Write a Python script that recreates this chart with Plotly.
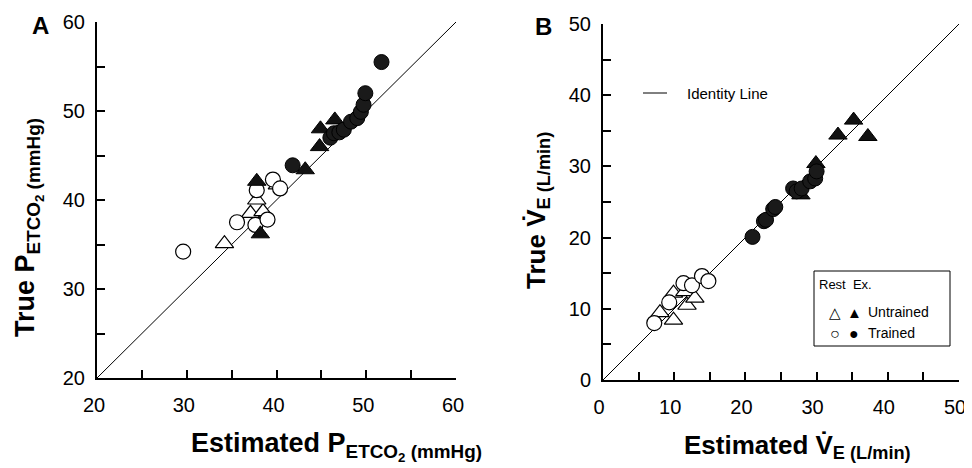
import plotly.graph_objects as go

# ---------------- data ----------------
# Panel A: PETCO2 (mmHg)
a_rest_untrained_x = [34.2, 37.1, 38.5, 37.8, 40.1]
a_rest_untrained_y = [35.1, 38.5, 38.7, 40.0, 41.7]
a_rest_trained_x = [29.6, 35.6, 37.65, 39.0, 37.8, 39.6, 40.4]
a_rest_trained_y = [34.2, 37.5, 37.2, 37.8, 41.1, 42.3, 41.3]
a_ex_untrained_x = [38.2, 37.8, 43.2, 44.8, 44.9, 46.5]
a_ex_untrained_y = [36.2, 42.1, 43.4, 46.0, 48.0, 49.0]
a_ex_trained_x = [41.8, 46.0, 46.4, 47.0, 47.5, 48.3, 49.0, 49.4, 49.7, 49.9, 51.7]
a_ex_trained_y = [43.9, 47.0, 47.5, 47.6, 47.9, 48.8, 49.2, 49.9, 50.7, 52.0, 55.5]
a_identity = [20, 60]

# Panel B: VE (L/min)
b_rest_untrained_x = [8.0, 9.9, 9.9, 11.5, 11.8, 12.9]
b_rest_untrained_y = [9.45, 8.4, 12.2, 12.4, 10.5, 11.5]
b_rest_trained_x = [7.2, 9.3, 11.3, 12.5, 13.9, 14.8]
b_rest_trained_y = [8.0, 10.9, 13.6, 13.3, 14.6, 13.9]
b_ex_untrained_x = [27.8, 29.9, 33.0, 35.2, 37.2]
b_ex_untrained_y = [26.0, 30.4, 34.4, 36.5, 34.2]
b_ex_trained_x = [21.0, 22.6, 22.9, 23.9, 24.2, 26.7, 27.2, 27.9, 29.1, 29.8, 30.0]
b_ex_trained_y = [20.1, 22.3, 22.5, 24.0, 24.3, 26.9, 26.5, 26.9, 27.9, 28.3, 29.3]
b_identity = [0, 50]

a_ticks = [20, 30, 40, 50, 60]
b_ticks = [0, 10, 20, 30, 40, 50]

FONT = "Liberation Sans, Arial, Helvetica, sans-serif"
W, H = 972, 468
OFF = 8  # page body margin

fig = go.Figure()

def px(x):
    return (x - OFF) / W

def py(y):
    return 1 - (y - OFF) / H

open_tri = dict(symbol="triangle-up", size=16, color="white", line=dict(color="black", width=1.2))
open_circ = dict(symbol="circle", size=15, color="white", line=dict(color="black", width=1.2))
fill_tri = dict(symbol="triangle-up", size=16, color="#111111", line=dict(color="black", width=1))
fill_circ = dict(symbol="circle", size=15, color="#1a1a1a", line=dict(color="black", width=1))

# identity lines
fig.add_trace(go.Scatter(x=a_identity, y=a_identity, mode="lines", line=dict(color="black", width=1),
                         xaxis="x", yaxis="y", showlegend=False, hoverinfo="skip"))
fig.add_trace(go.Scatter(x=b_identity, y=b_identity, mode="lines", line=dict(color="black", width=1),
                         xaxis="x2", yaxis="y2", showlegend=False, hoverinfo="skip"))

for (xs, ys, mk, ax) in [
    (a_rest_untrained_x, a_rest_untrained_y, open_tri, ("x", "y")),
    (a_rest_trained_x, a_rest_trained_y, open_circ, ("x", "y")),
    (a_ex_untrained_x, a_ex_untrained_y, fill_tri, ("x", "y")),
    (a_ex_trained_x, a_ex_trained_y, fill_circ, ("x", "y")),
    (b_rest_untrained_x, b_rest_untrained_y, open_tri, ("x2", "y2")),
    (b_rest_trained_x, b_rest_trained_y, open_circ, ("x2", "y2")),
    (b_ex_untrained_x, b_ex_untrained_y, fill_tri, ("x2", "y2")),
    (b_ex_trained_x, b_ex_trained_y, fill_circ, ("x2", "y2")),
]:
    fig.add_trace(go.Scatter(x=xs, y=ys, mode="markers", marker=mk, xaxis=ax[0], yaxis=ax[1],
                             showlegend=False, cliponaxis=False))

axis_common = dict(
    showgrid=False, zeroline=False, showline=True, linecolor="black", linewidth=2,
    ticks="inside", ticklen=8, tickwidth=1.5, tickcolor="black",
    tickfont=dict(family=FONT, size=20, color="black"),
    minor=dict(ticks="inside", ticklen=8, tickwidth=1.5, tickcolor="black", dtick=5),
    fixedrange=True, automargin=False,
)

fig.update_layout(
    width=W, height=H,
    margin=dict(l=0, r=0, t=0, b=0, autoexpand=False),
    paper_bgcolor="white", plot_bgcolor="white",
    xaxis=dict(domain=[px(97), px(456)], range=[20, 60], tickvals=a_ticks, anchor="y",
               ticklabelstandoff=8, ticklabelshift=-3, **axis_common),
    yaxis=dict(domain=[py(378), py(22)], range=[20, 60], tickvals=a_ticks, anchor="x",
               ticklabelstandoff=6, **axis_common),
    xaxis2=dict(domain=[px(603), px(959)], range=[0, 50], tickvals=b_ticks, anchor="y2",
                ticklabelstandoff=8, ticklabelshift=-4, **axis_common),
    yaxis2=dict(domain=[py(380), py(24)], range=[0, 50], tickvals=b_ticks, anchor="x2",
                ticklabelstandoff=6, **axis_common),
    showlegend=False,
)

ann = []
def text(x, y, t, size, xanchor="center", yanchor="middle", angle=0):
    ann.append(dict(x=px(x), y=py(y), xref="paper", yref="paper", text=t, showarrow=False,
                    xanchor=xanchor, yanchor=yanchor, textangle=angle,
                    font=dict(family=FONT, size=size, color="black")))

# panel letters
text(40, 26, "<b>A</b>", 24)
text(543, 27, "<b>B</b>", 24)

# axis titles
text(336, 446, "<b>Estimated P<sub>ETCO<sub>2</sub> (mmHg)</sub></b>", 27)
text(28, 228, "<b>True P<sub>ETCO<sub>2</sub> (mmHg)</sub></b>", 27, angle=-90)
text(797, 446, "<b>Estimated V\u0307<sub>E (L/min)</sub></b>", 26)
text(537, 211, "<b>True V\u0307<sub>E (L/min)</sub></b>", 26, angle=-90)

# identity legend
text(685, 93, "Identity Line", 15, xanchor="left")

# symbol legend
text(817, 284, "Rest  Ex.", 13, xanchor="left")
text(835, 312, "\u25B3", 15)
text(854, 312, "\u25B2", 15)
text(866, 312, "Untrained", 14, xanchor="left")
text(835, 333, "\u25CB", 16)
text(854, 333, "\u25CF", 16)
text(866, 333, "Trained", 14, xanchor="left")

fig.update_layout(annotations=ann)

fig.add_shape(type="line", xref="paper", yref="paper", x0=px(643), x1=px(667), y0=py(93), y1=py(93),
              line=dict(color="black", width=1))
fig.add_shape(type="rect", xref="paper", yref="paper", x0=px(814), x1=px(950), y0=py(346), y1=py(271),
              line=dict(color="black", width=1), fillcolor="rgba(0,0,0,0)")

fig.write_html("out.html")
